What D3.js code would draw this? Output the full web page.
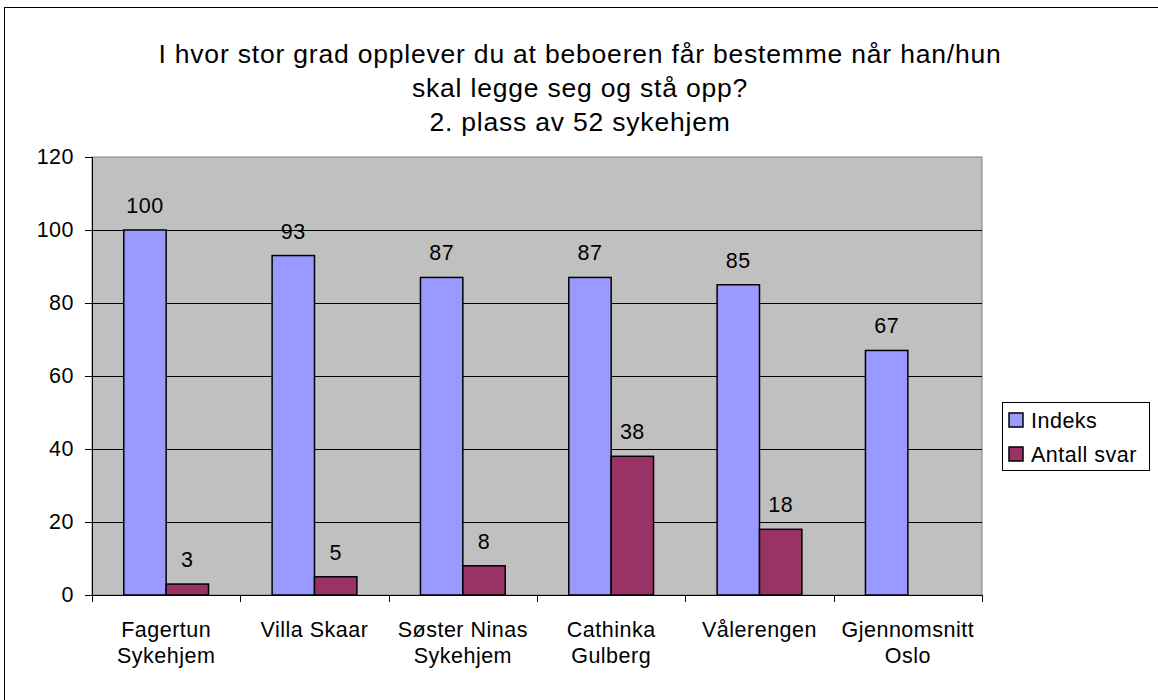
<!DOCTYPE html>
<html>
<head>
<meta charset="utf-8">
<script src="https://cdn.jsdelivr.net/npm/d3@7"></script>
<style>
  body { margin: 0; background: #fff; }
  text { font-family: "Liberation Sans", Arial, sans-serif; fill: #000; }
</style>
</head>
<body>
<svg id="chart" width="1158" height="700"></svg>
<script>
// chart data
const categories = [
  ['Fagertun', 'Sykehjem'],
  ['Villa Skaar'],
  ['Søster Ninas', 'Sykehjem'],
  ['Cathinka', 'Gulberg'],
  ['Vålerengen'],
  ['Gjennomsnitt', 'Oslo']
];
const indeks = [100, 93, 87, 87, 85, 67];
const antallSvar = [3, 5, 8, 38, 18, null];
const seriesNames = ['Indeks', 'Antall svar'];
const seriesColors = ['#9999ff', '#993366'];
const yTicks = [0, 20, 40, 60, 80, 100, 120];
const titleLines = [
  'I hvor stor grad opplever du at beboeren får bestemme når han/hun',
  'skal legge seg og stå opp?',
  '2. plass av 52 sykehjem'
];

const svg = d3.select('#chart');
const labelFont = (sel) => sel.style('font-size', '21.5px').style('letter-spacing', '0.5px');

// outer frame
svg.append('rect')
  .attr('x', 4.5).attr('y', 7.5)
  .attr('width', 1170).attr('height', 720)
  .attr('fill', '#fff')
  .attr('stroke', '#000')
  .attr('stroke-width', 1);

const plot = { left: 92, top: 157, right: 982, bottom: 595 };

const x = d3.scaleBand()
  .domain(d3.range(categories.length))
  .range([plot.left, plot.right]);

// two bars, gap width 150%
const barW = x.bandwidth() / 3.5;
const gap = barW * 0.75;

const y = d3.scaleLinear()
  .domain([0, 120])
  .range([plot.bottom, plot.top]);

// plot background
svg.append('rect')
  .attr('x', plot.left).attr('y', plot.top)
  .attr('width', plot.right - plot.left)
  .attr('height', plot.bottom - plot.top)
  .attr('fill', '#c0c0c0')
  .attr('stroke', '#808080')
  .attr('stroke-width', 1);

// gridlines
svg.append('g')
  .selectAll('line')
  .data(yTicks.filter(d => d > 0 && d < 120))
  .enter()
  .append('line')
    .attr('x1', plot.left).attr('x2', plot.right)
    .attr('y1', d => Math.round(y(d)) + 0.5)
    .attr('y2', d => Math.round(y(d)) + 0.5)
    .attr('stroke', '#000')
    .attr('stroke-width', 1);

// y axis
const yAxis = svg.append('g')
  .attr('transform', `translate(${plot.left},0)`)
  .call(d3.axisLeft(y).tickValues(yTicks).tickSize(7).tickPadding(11));
yAxis.select('.domain').attr('stroke', '#000');
yAxis.selectAll('text')
  .style('font-family', '"Liberation Sans", Arial, sans-serif')
  .call(labelFont);

// x axis
const xAxis = svg.append('g')
  .attr('transform', `translate(0,${plot.bottom})`);
xAxis.append('line')
  .attr('x1', plot.left).attr('x2', plot.right)
  .attr('y1', 0.5).attr('y2', 0.5)
  .attr('stroke', '#000');
xAxis.selectAll('line.tick')
  .data(d3.range(categories.length + 1))
  .enter()
  .append('line')
    .attr('class', 'tick')
    .attr('x1', i => Math.round(plot.left + i * x.step()) + 0.5)
    .attr('x2', i => Math.round(plot.left + i * x.step()) + 0.5)
    .attr('y1', 0).attr('y2', 7)
    .attr('stroke', '#000');

xAxis.selectAll('text.cat')
  .data(categories)
  .enter()
  .append('text')
    .attr('class', 'cat')
    .attr('text-anchor', 'middle')
    .call(labelFont)
    .each(function(lines, i) {
      d3.select(this).selectAll('tspan')
        .data(lines)
        .enter()
        .append('tspan')
          .attr('x', x(i) + x.bandwidth() / 2)
          .attr('y', (d, j) => 42 + j * 26)
          .text(d => d);
    });

// bars
const series = [indeks, antallSvar];
series.forEach((values, s) => {
  const g = svg.append('g').attr('class', 'series-' + s);
  const data = values.map((v, i) => ({ i, v })).filter(d => d.v != null);

  g.selectAll('rect')
    .data(data)
    .enter()
    .append('rect')
      .attr('x', d => x(d.i) + gap + s * barW)
      .attr('y', d => y(d.v))
      .attr('width', barW)
      .attr('height', d => y(0) - y(d.v))
      .attr('fill', seriesColors[s])
      .attr('stroke', '#000')
      .attr('stroke-width', 1.5);

  g.selectAll('text')
    .data(data)
    .enter()
    .append('text')
      .attr('x', d => x(d.i) + gap + s * barW + barW / 2)
      .attr('y', d => y(d.v) - 17)
      .attr('text-anchor', 'middle')
      .call(labelFont)
      .text(d => d.v);
});

// title
svg.append('text')
  .attr('text-anchor', 'middle')
  .style('font-size', '26.5px')
  .style('letter-spacing', '0.8px')
  .selectAll('tspan')
  .data(titleLines)
  .enter()
  .append('tspan')
    .attr('x', 580)
    .attr('y', (d, i) => 63 + i * 34)
    .text(d => d);

// legend
const legend = svg.append('g').attr('transform', 'translate(1002,402)');
legend.append('rect')
  .attr('x', 0.5).attr('y', 0.5)
  .attr('width', 147).attr('height', 68)
  .attr('fill', '#fff')
  .attr('stroke', '#000');

seriesNames.forEach((name, i) => {
  const row = legend.append('g').attr('transform', `translate(7,${18 + i * 34})`);
  row.append('rect')
    .attr('x', 0).attr('y', -7)
    .attr('width', 14).attr('height', 14)
    .attr('fill', seriesColors[i])
    .attr('stroke', '#000')
    .attr('stroke-width', 1.5);
  row.append('text')
    .attr('x', 22)
    .attr('y', 7.5)
    .call(labelFont)
    .text(name);
});
</script>
</body>
</html>
